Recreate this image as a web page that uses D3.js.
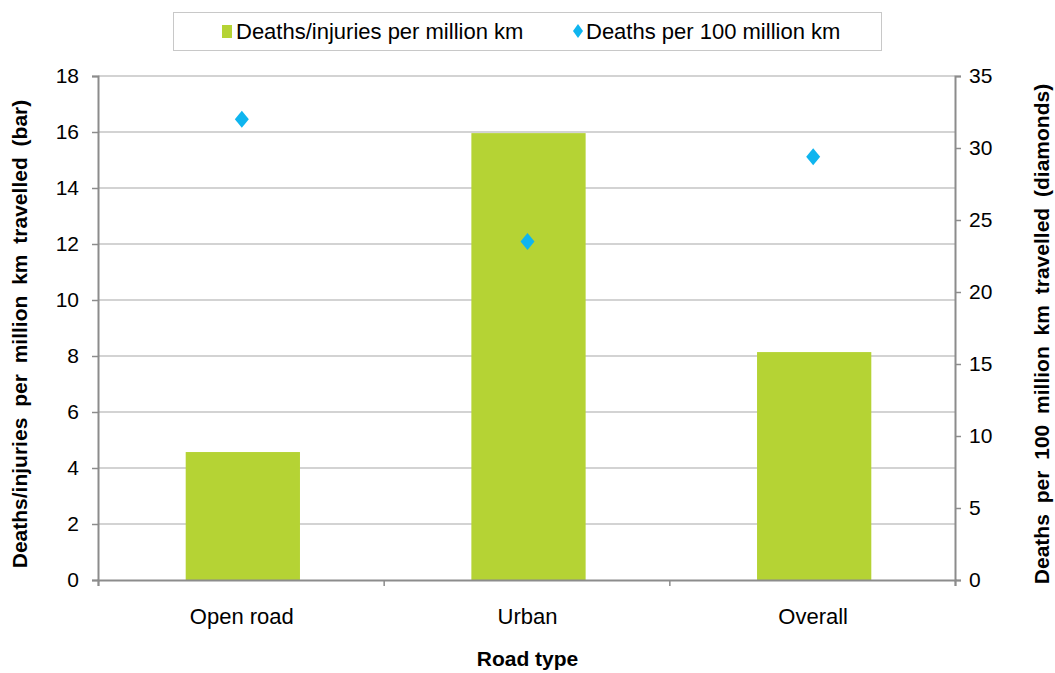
<!DOCTYPE html>
<html>
<head>
<meta charset="utf-8">
<script src="https://cdn.jsdelivr.net/npm/d3@7"></script>
<style>
  body { margin: 0; background: #fff; }
  text { font-family: "Liberation Sans", Arial, sans-serif; fill: #000; }
</style>
</head>
<body>
<svg id="grafico" width="1055" height="673"></svg>
<script>
// datos
var tiposCarretera = ["Open road", "Urban", "Overall"];
var lesionadosPorMillon = [4.57, 15.96, 8.14];
var muertesPor100Millones = [32.0, 23.5, 29.4];
var ticksIzq = [0, 2, 4, 6, 8, 10, 12, 14, 16, 18];
var ticksDer = [0, 5, 10, 15, 20, 25, 30, 35];

var margin = { top: 76, right: 100, bottom: 93, left: 98 },
    width = 1055 - margin.left - margin.right,
    height = 673 - margin.top - margin.bottom;

var svg = d3.select("#grafico")
    .append("g")
    .attr("transform", "translate(" + margin.left + "," + margin.top + ")");

var x = d3.scaleBand()
    .domain(tiposCarretera)
    .range([0, width])
    .paddingInner(0.6)
    .paddingOuter(0.3);

var yIzq = d3.scaleLinear().domain([0, 18]).range([height, 0]);
var yDer = d3.scaleLinear().domain([0, 35]).range([height, 0]);

// lineas de cuadricula
svg.append("g")
    .selectAll("line")
    .data(ticksIzq.filter(function (d) { return d > 0; }))
    .enter().append("line")
    .attr("x1", 0).attr("x2", width)
    .attr("y1", function (d) { return yIzq(d); })
    .attr("y2", function (d) { return yIzq(d); })
    .attr("stroke", "#c4c4c4")
    .attr("stroke-width", 1.5);

// barras
svg.append("g")
    .selectAll("rect")
    .data(lesionadosPorMillon)
    .enter().append("rect")
    .attr("x", function (d, i) { return x(tiposCarretera[i]) + 2; })
    .attr("width", x.bandwidth())
    .attr("y", function (d) { return yIzq(d); })
    .attr("height", function (d) { return height - yIzq(d); })
    .attr("fill", "#b5d334");

// eje izquierdo
var ejeIzq = svg.append("g")
    .call(d3.axisLeft(yIzq).tickValues(ticksIzq).tickSize(6).tickPadding(13));
// eje derecho
var ejeDer = svg.append("g")
    .attr("transform", "translate(" + width + ",0)")
    .call(d3.axisRight(yDer).tickValues(ticksDer).tickSize(6).tickPadding(8));

// eje inferior, ticks entre categorias
var xPos = d3.scaleLinear().domain([0, 3]).range([0, width]);
var ejeX = svg.append("g")
    .attr("transform", "translate(0," + height + ")")
    .call(d3.axisBottom(xPos).tickValues([0, 1, 2, 3]).tickSize(6).tickFormat(""));

[ejeIzq, ejeDer, ejeX].forEach(function (eje) {
    eje.select(".domain").attr("stroke", "#8c8c8c").attr("stroke-width", 2);
    eje.selectAll(".tick line").attr("stroke", "#8c8c8c").attr("stroke-width", 1.5);
    eje.selectAll(".tick text").style("font-size", "21px").attr("fill", "#000");
});

// etiquetas de categorias
svg.append("g")
    .selectAll("text")
    .data(tiposCarretera)
    .enter().append("text")
    .attr("x", function (d) { return x(d) + x.bandwidth() / 2 + 1; })
    .attr("y", height + 44)
    .style("text-anchor", "middle")
    .style("font-size", "22px")
    .text(function (d) { return d; });

// diamantes
svg.append("g")
    .selectAll("path")
    .data(muertesPor100Millones)
    .enter().append("path")
    .attr("transform", function (d, i) {
        return "translate(" + (x(tiposCarretera[i]) + x.bandwidth() / 2 + 1) + "," + yDer(d) + ")";
    })
    .attr("d", "M0,-8.5L7,0L0,8.5L-7,0Z")
    .attr("fill", "#0fb5ef");

// titulos de ejes
svg.append("text")
    .attr("transform", "rotate(-90)")
    .attr("x", -height / 2 - 6)
    .attr("y", -margin.left + 27)
    .style("text-anchor", "middle")
    .style("font-size", "21px")
    .style("font-weight", "bold")
    .style("word-spacing", "5px")
    .text("Deaths/injuries per million km travelled  (bar)");

svg.append("text")
    .attr("transform", "rotate(-90)")
    .attr("x", -height / 2 - 6)
    .attr("y", width + 94)
    .style("text-anchor", "middle")
    .style("font-size", "21px")
    .style("font-weight", "bold")
    .style("word-spacing", "5px")
    .text("Deaths per 100 million km travelled  (diamonds)");

svg.append("text")
    .attr("x", width / 2 + 1)
    .attr("y", height + 86)
    .style("text-anchor", "middle")
    .style("font-size", "21px")
    .style("font-weight", "bold")
    .text("Road type");

// leyenda
var leyenda = d3.select("#grafico").append("g");
leyenda.append("rect")
    .attr("x", 173.5).attr("y", 12.5)
    .attr("width", 708).attr("height", 38)
    .attr("fill", "#fff")
    .attr("stroke", "#c8c8c8")
    .attr("stroke-width", 1);
leyenda.append("rect")
    .attr("x", 222).attr("y", 25)
    .attr("width", 10).attr("height", 13)
    .attr("fill", "#b5d334");
leyenda.append("text")
    .attr("x", 236).attr("y", 39)
    .style("font-size", "22px")
    .text("Deaths/injuries per million km");
leyenda.append("path")
    .attr("transform", "translate(578,31)")
    .attr("d", "M0,-7L5,0L0,7L-5,0Z")
    .attr("fill", "#0fb5ef");
leyenda.append("text")
    .attr("x", 586).attr("y", 39)
    .style("font-size", "22px")
    .text("Deaths per 100 million km");
</script>
</body>
</html>
